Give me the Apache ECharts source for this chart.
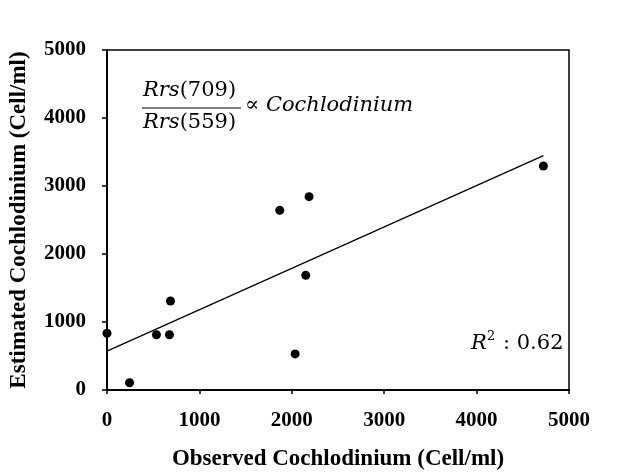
<!DOCTYPE html>
<html>
<head>
<meta charset="utf-8">
<script src="https://cdn.jsdelivr.net/npm/echarts@6/dist/echarts.min.js"></script>
<style>html,body{margin:0;padding:0;background:#fff}#c{width:621px;height:476px}</style>
</head>
<body>
<div id="c"></div>
<script>
var observed = [0, 244, 535, 676, 687, 1870, 2036, 2151, 2187, 4723];
var estimated = [834, 107, 813, 813, 1309, 2642, 531, 1686, 2843, 3294];
var fitX = [0, 4723];
var fitY = [573, 3446];
var xTicks = [0, 1000, 2000, 3000, 4000, 5000];
var yTicks = [0, 1000, 2000, 3000, 4000, 5000];

var pts = observed.map(function (x, i) { return [x, estimated[i]]; });
var fit = fitX.map(function (x, i) { return [x, fitY[i]]; });

var chart = echarts.init(document.getElementById('c'));
var serif = '"Liberation Serif", "Times New Roman", serif';
var mathFont = '"DejaVu Serif", "Liberation Serif", serif';
var mathRich = {
  i: { fontFamily: mathFont, fontStyle: 'italic', fontSize: 21, color: '#000' },
  n: { fontFamily: mathFont, fontSize: 21, color: '#000' }
};
chart.setOption({
  animation: false,
  backgroundColor: '#fff',
  grid: { left: 106, right: 52, top: 50, bottom: 86, show: true, borderColor: '#000', borderWidth: 1.5 },
  xAxis: {
    type: 'value', min: xTicks[0], max: xTicks[xTicks.length - 1], interval: 1000,
    name: 'Observed Cochlodinium (Cell/ml)', nameLocation: 'middle', nameGap: 58,
    nameTextStyle: { fontFamily: serif, fontWeight: 'bold', fontSize: 23, color: '#000' },
    axisLine: { show: true, lineStyle: { color: '#000', width: 2 } },
    axisTick: { show: true, length: 4, lineStyle: { color: '#000', width: 1.5 } },
    axisLabel: { fontFamily: serif, fontWeight: 'bold', fontSize: 21, color: '#000', margin: 20,
      formatter: function (v) { return String(v); } },
    splitLine: { show: false }
  },
  yAxis: {
    type: 'value', min: yTicks[0], max: yTicks[yTicks.length - 1], interval: 1000,
    name: 'Estimated Cochlodinium (Cell/ml)', nameLocation: 'middle', nameGap: 76,
    nameTextStyle: { fontFamily: serif, fontWeight: 'bold', fontSize: 23, color: '#000' },
    axisLine: { show: true, lineStyle: { color: '#000', width: 2 } },
    axisTick: { show: true, length: 5, lineStyle: { color: '#000', width: 1.5 } },
    axisLabel: { fontFamily: serif, fontWeight: 'bold', fontSize: 21, color: '#000', margin: 21,
      formatter: function (v) { return String(v); } },
    splitLine: { show: false }
  },
  series: [
    {
      type: 'line', data: fit, symbol: 'none', silent: true,
      lineStyle: { color: '#000', width: 1.3 }
    },
    {
      type: 'scatter', data: pts, symbol: 'circle', symbolSize: 9,
      itemStyle: { color: '#000', opacity: 1 }
    }
  ],
  graphic: [
    { type: 'text', left: 143, top: 80, style: { text: '{i|Rrs}{n|(709)}', rich: mathRich } },
    { type: 'line', shape: { x1: 142, y1: 108, x2: 241, y2: 108 }, style: { stroke: '#000', lineWidth: 1.2 } },
    { type: 'text', left: 143, top: 112, style: { text: '{i|Rrs}{n|(559)}', rich: mathRich } },
    { type: 'text', left: 245, top: 95, style: { text: '{n|∝ }{i|Cochlodinium}', rich: mathRich } },
    { type: 'text', left: 471, top: 333, style: { text: 'R', font: 'italic 21px ' + mathFont, fill: '#000' } },
    { type: 'text', left: 487, top: 330, style: { text: '2', font: '13px ' + mathFont, fill: '#000' } },
    { type: 'text', left: 503, top: 333, style: { text: ': 0.62', font: '21px ' + mathFont, fill: '#000' } }
  ]
});
</script>
</body>
</html>
